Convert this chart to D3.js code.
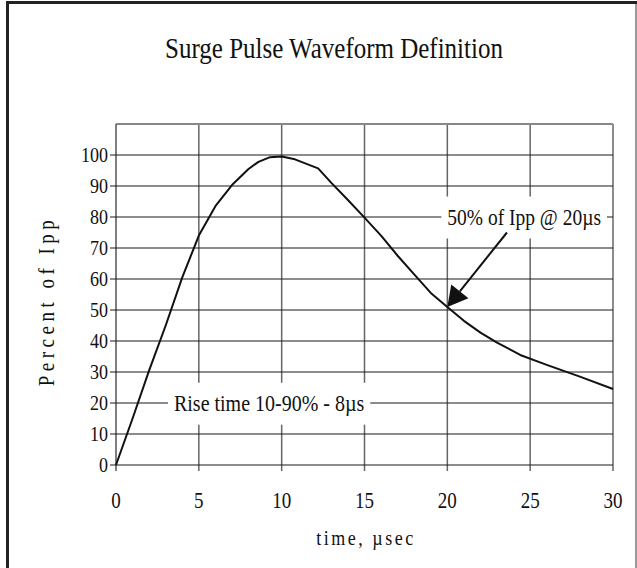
<!DOCTYPE html>
<html>
<head>
<meta charset="utf-8">
<script src="https://cdn.jsdelivr.net/npm/d3@7"></script>
<style>
  body { margin: 0; background: #fff; }
  svg text { font-family: "Liberation Serif", "Times New Roman", serif; fill: #111; }
</style>
</head>
<body>
<svg id="chart"></svg>
<script>
// waveform (time in µs, percent of Ipp)
var timeUs = [0, 1, 2, 3, 4, 5, 6, 7, 8, 8.6, 9.3, 10, 10.8, 12.2, 13, 14, 15, 16, 17, 18, 19, 20, 21, 22, 23, 24.4, 26, 28, 30];
var percentIpp = [0, 15, 30.5, 45, 60.5, 74, 83.5, 90.3, 95.5, 97.8, 99.3, 99.5, 98.6, 95.7, 91, 85.5, 79.8, 74, 67.5, 61.5, 55.5, 51, 46.5, 42.7, 39.5, 35.5, 32.3, 28.5, 24.5];

var xTicks = [0, 5, 10, 15, 20, 25, 30];
var yTicks = [0, 10, 20, 30, 40, 50, 60, 70, 80, 90, 100];

var titleText = "Surge Pulse Waveform Definition";
var xTitle = "time, µsec";
var yTitle = "Percent of Ipp";
var riseNote = "Rise time 10-90% - 8µs";
var riseAt = [3.5, 20];
var peakNote = "50% of Ipp @ 20µs";
var peakNoteAt = [20, 80];
var arrowFrom = [23.6, 75];
var arrowTo = [20, 51];

var width = 637;
var height = 568;
var margin = { top: 124, right: 24, bottom: 103, left: 116 };
var stretch = 1.18; // the text in the picture is a bit taller than wide

var svg = d3.select("#chart")
  .attr("width", width)
  .attr("height", height);

// outer frame
svg.append("rect").attr("x", 6).attr("y", 1).attr("width", 3).attr("height", height).attr("fill", "#222");
svg.append("rect").attr("x", 6).attr("y", 1).attr("width", width - 6).attr("height", 3).attr("fill", "#222");
svg.append("line").attr("x1", 636).attr("x2", 636).attr("y1", 4).attr("y2", height)
  .attr("stroke", "#777").attr("stroke-width", 1.5);

var x = d3.scaleLinear().domain([0, 30]).range([margin.left, width - margin.right]);
var y = d3.scaleLinear().domain([0, 110]).range([height - margin.bottom, margin.top]);

function place(sel, px, py, rot) {
  return sel.attr("transform", "translate(" + px + "," + py + ")" + (rot ? " rotate(" + rot + ")" : "") + " scale(1," + stretch + ")");
}

var g = svg.append("g");

// vertical grid (gray)
g.selectAll(".vgrid")
  .data(xTicks.slice(1))
  .join("line")
  .attr("class", "vgrid")
  .attr("x1", d => x(d)).attr("x2", d => x(d))
  .attr("y1", y(110)).attr("y2", y(0) + 6)
  .attr("stroke", "#666").attr("stroke-width", 1.5);

// top border of plot
g.append("line")
  .attr("x1", x(0)).attr("x2", x(30))
  .attr("y1", y(110)).attr("y2", y(110))
  .attr("stroke", "#888").attr("stroke-width", 2);

// left axis
g.append("line")
  .attr("x1", x(0)).attr("x2", x(0))
  .attr("y1", y(110)).attr("y2", y(0) + 6)
  .attr("stroke", "#555").attr("stroke-width", 1.5);

// horizontal grid (dark), with ticks to the left
g.selectAll(".hgrid")
  .data(yTicks)
  .join("line")
  .attr("class", "hgrid")
  .attr("x1", x(0) - 6).attr("x2", x(30))
  .attr("y1", d => y(d)).attr("y2", d => y(d))
  .attr("stroke", "#1a1a1a").attr("stroke-width", 1.2);

// y tick labels
g.selectAll(".ylab")
  .data(yTicks)
  .join("text")
  .attr("class", "ylab")
  .attr("dy", "0.35em")
  .attr("text-anchor", "end")
  .style("font-size", "18px")
  .each(function (d) { place(d3.select(this), x(0) - 8, y(d)); })
  .text(d => d);

// x tick labels
g.selectAll(".xlab")
  .data(xTicks)
  .join("text")
  .attr("class", "xlab")
  .attr("text-anchor", "middle")
  .style("font-size", "19px")
  .each(function (d) { place(d3.select(this), x(d), y(0) + 43); })
  .text(d => d);

// notes with white box behind them
function note(txt, at, size) {
  var t = g.append("text")
    .attr("dy", "0.35em")
    .style("font-size", size + "px")
    .text(txt);
  place(t, x(at[0]), y(at[1]));
  var b = t.node().getBBox();
  g.insert("rect", function () { return t.node(); })
    .attr("x", x(at[0]) + b.x - 6).attr("y", y(at[1]) + b.y * stretch - 8)
    .attr("width", b.width + 12).attr("height", b.height * stretch + 16)
    .attr("fill", "#fff");
  return t;
}

// curve
var pts = timeUs.map((t, i) => [t, percentIpp[i]]);
g.append("path")
  .datum(pts)
  .attr("fill", "none")
  .attr("stroke", "#111")
  .attr("stroke-width", 2)
  .attr("stroke-linejoin", "round")
  .attr("d", d3.line().x(d => x(d[0])).y(d => y(d[1])));

note(riseNote, riseAt, 20);
note(peakNote, peakNoteAt, 19.5);

// arrow
var x0 = x(arrowFrom[0]), y0 = y(arrowFrom[1]);
var x1 = x(arrowTo[0]), y1 = y(arrowTo[1]);
var ang = Math.atan2(y1 - y0, x1 - x0);
var headLen = 20, headHalf = 11;
var bx = x1 - headLen * Math.cos(ang), by = y1 - headLen * Math.sin(ang);
g.append("line")
  .attr("x1", x0).attr("y1", y0).attr("x2", bx).attr("y2", by)
  .attr("stroke", "#111").attr("stroke-width", 2);
g.append("path")
  .attr("d", d3.line()([
    [x1, y1],
    [bx + headHalf * Math.sin(ang), by - headHalf * Math.cos(ang)],
    [bx - headHalf * Math.sin(ang), by + headHalf * Math.cos(ang)]
  ]) + "Z")
  .attr("fill", "#111");

// titles
place(svg.append("text"), 334, 58)
  .attr("text-anchor", "middle")
  .style("font-size", "25px")
  .text(titleText);

place(svg.append("text"), 366, 545)
  .attr("text-anchor", "middle")
  .style("font-size", "18px")
  .style("letter-spacing", "2.5px")
  .text(xTitle);

place(svg.append("text"), 54, 301, -90)
  .attr("text-anchor", "middle")
  .style("font-size", "19px")
  .style("letter-spacing", "4.5px")
  .text(yTitle);
</script>
</body>
</html>
